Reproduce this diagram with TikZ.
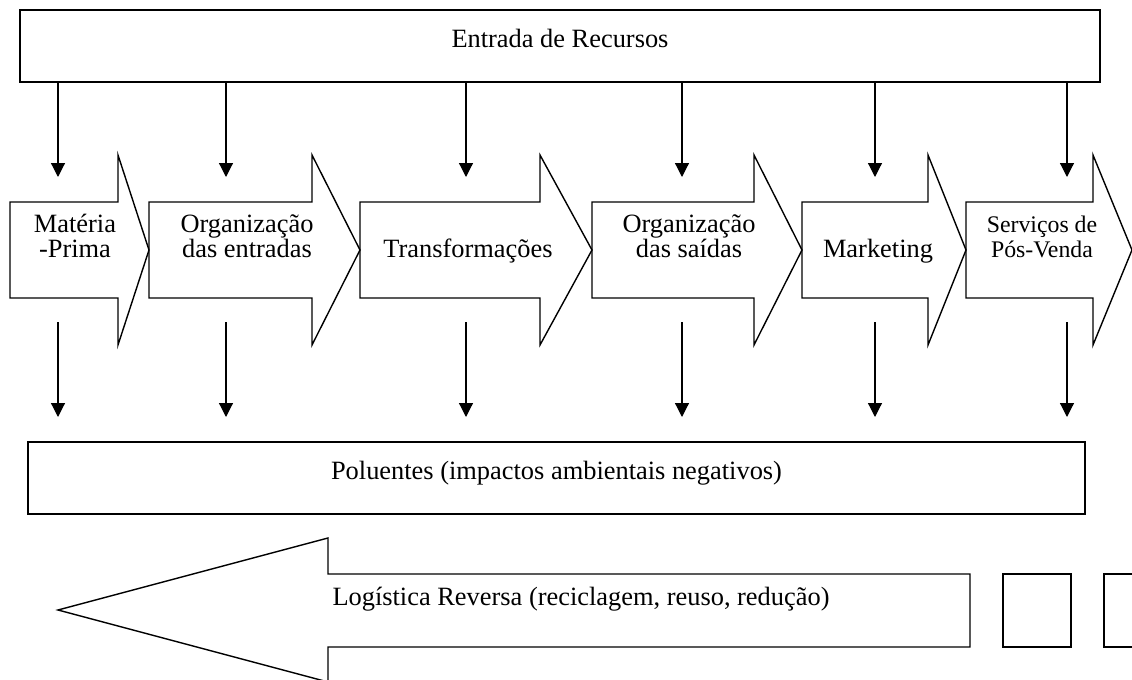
\documentclass[tikz,border=0pt]{standalone}
\usepackage{fontspec}
\setmainfont{Liberation Serif}
\usetikzlibrary{arrows.meta}
\usetikzlibrary{positioning}
\tikzset{
  pics/chev/.style args={#1:#2:#3}{
    code={
      \draw[pic actions] (#1,202) -- (#2,202) -- (#2,155) -- (#3,250) -- (#2,345) -- (#2,298) -- (#1,298) -- cycle;
    }
  },
  caixa/.style={draw, line width=0.75pt, inner sep=0pt, font=\fontsize{13.2}{12.5}\selectfont},
  rotulo/.style={anchor=base, align=center, inner sep=0pt, font=\fontsize{13.2}{12.5}\selectfont},
  seta/.style={-{Triangle[length=7pt,width=7pt]}, line width=0.6pt}
}

\begin{document}
\begin{tikzpicture}[x=0.5pt, y=-0.5pt]

\clip (0,0) rectangle (1132,680);

% caixas de cima e de baixo
\node[caixa, minimum width=540pt, minimum height=36pt, text height=8pt, text depth=7pt] (recursos) at (560,46) {Entrada de Recursos};
\node[caixa, minimum width=528.5pt, minimum height=36pt, text height=8pt, text depth=7pt] (poluentes) at (556.5,478) {Poluentes (impactos ambientais negativos)};

%%% cadeia de setas
\draw[line width=0.7pt] (0,0) pic{chev = 10:118:149};
\draw[line width=0.7pt] (0,0) pic{chev = 149:312:360};
\draw[line width=0.7pt] (0,0) pic{chev = 360:540:592};
\draw[line width=0.7pt] (0,0) pic{chev = 592:754:802};
\draw[line width=0.7pt] (0,0) pic{chev = 802:928:966};
\draw[line width=0.7pt] (0,0) pic{chev = 966:1093:1132};

% base = ultima linha
\node[rotulo] (materia) at (75,257) {Matéria\\-Prima};
\node[rotulo] (orgent) at (247,257) {Organização\\das entradas};
\node[rotulo] (transf) at (468,257) {Transformações};
\node[rotulo] (orgsai) at (689,257) {Organização\\das saídas};
\node[rotulo] (marketing) at (878,257) {Marketing};
\node[rotulo, font=\fontsize{11.9}{12.5}\selectfont] (posvenda) at (1042,257) {Serviços de\\Pós-Venda};

% entradas e saidas
\foreach \x [count=\i] in {58,226,466,682,875,1067} {
  \coordinate (in\i) at (\x,177);
  \coordinate (out\i) at (\x,322);
  \coordinate (pol\i) at (\x,417);
  \draw[seta] (recursos.south -| in\i) -- (in\i);
  \draw[seta] (out\i) -- (pol\i);
}

%%% logistica reversa
\draw[line width=0.7pt] (970,574) -- (328,574) -- (328,538) -- (58,610) -- (328,682) -- (328,647) -- (970,647) -- cycle;
\node[rotulo] (reversa) at (581,605) {Logística Reversa (reciclagem, reuso, redução)};
\draw[line width=0.7pt] (1003,574) rectangle (1071,647);
\draw[line width=0.7pt] (1104,574) rectangle (1172,647);

\end{tikzpicture}
\end{document}
